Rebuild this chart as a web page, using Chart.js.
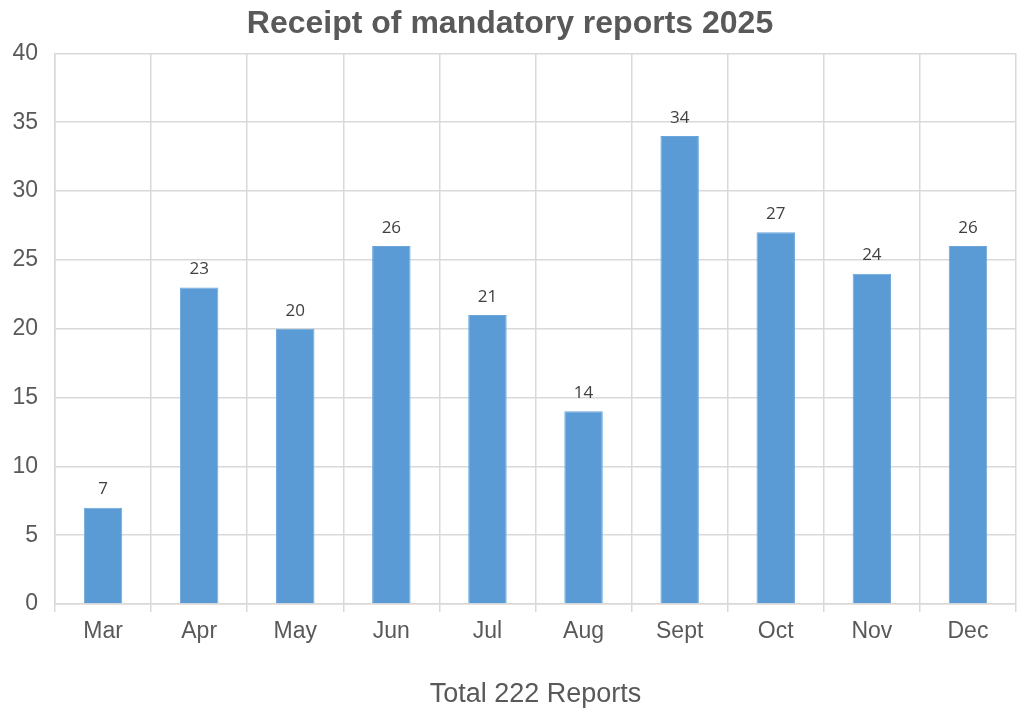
<!DOCTYPE html>
<html lang="en">
<head>
<meta charset="UTF-8" />
<title>Receipt of mandatory reports 2025</title>
<script src="https://cdn.jsdelivr.net/npm/chart.js"></script>
<style>
  html, body { margin: 0; padding: 0; background: #fff; }
  #wrap { width: 1024px; height: 716px; }
</style>
</head>
<body>
<div id="wrap"><canvas id="bars"></canvas></div>
<script>
  const months = ['Mar', 'Apr', 'May', 'Jun', 'Jul', 'Aug', 'Sept', 'Oct', 'Nov', 'Dec'];
  const reports = [7, 23, 20, 26, 21, 14, 34, 27, 24, 26];
  const yTicks = [0, 5, 10, 15, 20, 25, 30, 35, 40];

  const grey = '#595959';
  const gridColor = '#d9d9d9';
  const arial = 'Arial, "Liberation Sans", sans-serif';

  // value labels above each bar
  const barLabels = {
    id: 'barLabels',
    afterDatasetsDraw(chart) {
      const ctx = chart.ctx;
      const meta = chart.getDatasetMeta(0);
      ctx.save();
      ctx.font = '17px "Open Sans", sans-serif';
      ctx.fillStyle = '#404040';
      ctx.textAlign = 'center';
      ctx.textBaseline = 'middle';
      meta.data.forEach((bar, i) => {
        ctx.fillText(reports[i], bar.x, bar.y - 18);
      });
      ctx.restore();
    }
  };

  new Chart(document.getElementById('bars'), {
    type: 'bar',
    data: {
      labels: months,
      datasets: [{
        data: reports,
        backgroundColor: '#5b9bd5',
        borderColor: '#6aa6dc',
        borderWidth: 1,
        categoryPercentage: 0.8,
        barPercentage: 0.5
      }]
    },
    options: {
      responsive: true,
      maintainAspectRatio: false,
      animation: false,
      layout: { padding: { left: 4, right: 8, top: 5, bottom: 5 } },
      plugins: {
        legend: { display: false },
        tooltip: { enabled: false },
        title: {
          display: true,
          text: 'Receipt of mandatory reports 2025',
          color: grey,
          font: { family: arial, size: 32, weight: 'bold' },
          padding: { top: 0, bottom: 10 }
        }
      },
      scales: {
        x: {
          grid: { color: gridColor, offset: true, tickLength: 8, lineWidth: 1.5 },
          border: { color: gridColor, width: 1.5 },
          ticks: {
            color: grey,
            font: { family: arial, size: 23 },
            padding: 6
          },
          title: {
            display: true,
            text: 'Total 222 Reports',
            color: grey,
            font: { family: arial, size: 27 },
            padding: { top: 27, bottom: 0 }
          }
        },
        y: {
          min: 0,
          max: 40,
          afterBuildTicks(scale) {
            scale.ticks = yTicks.map(v => ({ value: v }));
          },
          afterFit(scale) {
            scale.width = 51;
          },
          grid: { color: gridColor, drawTicks: false, lineWidth: 1.5 },
          border: { color: gridColor, width: 1.5 },
          ticks: {
            color: grey,
            font: { family: arial, size: 23 },
            padding: 17
          }
        }
      }
    },
    plugins: [barLabels]
  });
</script>
</body>
</html>
